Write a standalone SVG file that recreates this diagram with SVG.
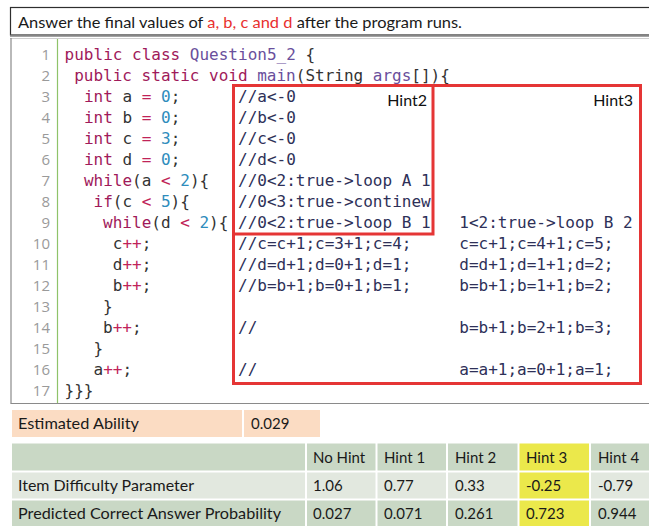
<svg xmlns="http://www.w3.org/2000/svg" width="649" height="526" viewBox="0 0 649 526">
<style>
.sans{font-family:Lato,"Open Sans","Liberation Sans",sans-serif;font-size:15px;fill:#1a1a1a}
.code{font-family:"DejaVu Sans Mono","Liberation Mono",monospace;font-size:16px;fill:#333333}
.ln{font-family:"Open Sans","Liberation Sans",sans-serif;font-size:15px;fill:#9a9a9a;text-anchor:end}
.cm{font-family:"DejaVu Sans Mono","Liberation Mono",monospace;font-size:16px;fill:#2e3058}
.kw{fill:#a01a5a}.id{fill:#6a4f9c}.nm{fill:#2e8cbc}.op{fill:#c02358}
.red{fill:none;stroke:#e53535;stroke-width:3}
.hint{font-family:Lato,"Open Sans","Liberation Sans",sans-serif;font-size:16px;fill:#111}
</style>
<rect width="649" height="526" fill="#ffffff"/>
<g id="question">
<rect x="10.5" y="7.5" width="645" height="27.5" fill="#ffffff" stroke="#2e2e2e" stroke-width="1.2"/>
<text class="sans" x="18" y="28" font-size="16" textLength="444" lengthAdjust="spacingAndGlyphs">Answer the final values of <tspan fill="#e8302e">a, b, c and d</tspan> after the program runs.</text>
</g>
<g id="code-box">
<line x1="10" y1="35.8" x2="649" y2="35.8" stroke="#858585" stroke-width="2"/>
<line x1="10" y1="38.5" x2="649" y2="38.5" stroke="#cfcfcf" stroke-width="1"/>
<line x1="11" y1="38" x2="11" y2="403.5" stroke="#8a8a8a" stroke-width="1.2"/>
<line x1="10.5" y1="403.5" x2="649" y2="403.5" stroke="#8a8a8a" stroke-width="1.2"/>
<line x1="57.5" y1="39" x2="57.5" y2="403" stroke="#8fc36a" stroke-width="1.2"/>
</g>
<g id="line-numbers">
<text class="ln" x="50" y="59.5">1</text>
<text class="ln" x="50" y="80.5">2</text>
<text class="ln" x="50" y="101.6">3</text>
<text class="ln" x="50" y="122.6">4</text>
<text class="ln" x="50" y="143.7">5</text>
<text class="ln" x="50" y="164.7">6</text>
<text class="ln" x="50" y="185.8">7</text>
<text class="ln" x="50" y="206.8">8</text>
<text class="ln" x="50" y="227.9">9</text>
<text class="ln" x="50" y="248.9">10</text>
<text class="ln" x="50" y="270">11</text>
<text class="ln" x="50" y="291">12</text>
<text class="ln" x="50" y="312.1">13</text>
<text class="ln" x="50" y="333.1">14</text>
<text class="ln" x="50" y="354.2">15</text>
<text class="ln" x="50" y="375.2">16</text>
<text class="ln" x="50" y="396.3">17</text>
</g>
<g id="code" xml:space="preserve">
<text class="code" x="64.6" y="59.5"><tspan class="kw">public class</tspan> <tspan class="id">Question5_2</tspan> {</text>
<text class="code" x="74.2" y="80.5"><tspan class="kw">public static void</tspan> <tspan class="id">main</tspan>(String <tspan class="id">args</tspan>[]){</text>
<text class="code" x="83.9" y="101.6"><tspan class="kw">int</tspan> a <tspan class="op">=</tspan> <tspan class="nm">0</tspan>;</text>
<text class="code" x="83.9" y="122.6"><tspan class="kw">int</tspan> b <tspan class="op">=</tspan> <tspan class="nm">0</tspan>;</text>
<text class="code" x="83.9" y="143.7"><tspan class="kw">int</tspan> c <tspan class="op">=</tspan> <tspan class="nm">3</tspan>;</text>
<text class="code" x="83.9" y="164.7"><tspan class="kw">int</tspan> d <tspan class="op">=</tspan> <tspan class="nm">0</tspan>;</text>
<text class="code" x="83.9" y="185.8"><tspan class="kw">while</tspan>(a <tspan class="op">&lt;</tspan> <tspan class="nm">2</tspan>){</text>
<text class="code" x="93.5" y="206.8"><tspan class="kw">if</tspan>(c <tspan class="op">&lt;</tspan> <tspan class="nm">5</tspan>){</text>
<text class="code" x="103.1" y="227.9"><tspan class="kw">while</tspan>(d <tspan class="op">&lt;</tspan> <tspan class="nm">2</tspan>){</text>
<text class="code" x="112.8" y="248.9">c<tspan class="op">++</tspan>;</text>
<text class="code" x="112.8" y="270">d<tspan class="op">++</tspan>;</text>
<text class="code" x="112.8" y="291">b<tspan class="op">++</tspan>;</text>
<text class="code" x="103.1" y="312.1">}</text>
<text class="code" x="103.1" y="333.1">b<tspan class="op">++</tspan>;</text>
<text class="code" x="93.5" y="354.2">}</text>
<text class="code" x="93.5" y="375.2">a<tspan class="op">++</tspan>;</text>
<text class="code" x="64.6" y="396.3">}}}</text>
</g>
<g id="hint2-comments" xml:space="preserve">
<text class="cm" x="238" y="101.6">//a&lt;-0</text>
<text class="cm" x="238" y="122.6">//b&lt;-0</text>
<text class="cm" x="238" y="143.7">//c&lt;-0</text>
<text class="cm" x="238" y="164.7">//d&lt;-0</text>
<text class="cm" x="238" y="185.8">//0&lt;2:true-&gt;loop A 1</text>
<text class="cm" x="238" y="206.8">//0&lt;3:true-&gt;continew</text>
<text class="cm" x="238" y="227.9">//0&lt;2:true-&gt;loop B 1</text>
<text class="cm" x="238" y="248.9">//c=c+1;c=3+1;c=4;</text>
<text class="cm" x="238" y="270">//d=d+1;d=0+1;d=1;</text>
<text class="cm" x="238" y="291">//b=b+1;b=0+1;b=1;</text>
<text class="cm" x="238" y="333.1">//</text>
<text class="cm" x="238" y="375.2">//</text>
</g>
<g id="hint3-comments" xml:space="preserve">
<text class="cm" x="459.3" y="227.9">1&lt;2:true-&gt;loop B 2</text>
<text class="cm" x="459.3" y="248.9">c=c+1;c=4+1;c=5;</text>
<text class="cm" x="459.3" y="270">d=d+1;d=1+1;d=2;</text>
<text class="cm" x="459.3" y="291">b=b+1;b=1+1;b=2;</text>
<text class="cm" x="459.3" y="333.1">b=b+1;b=2+1;b=3;</text>
<text class="cm" x="459.3" y="375.2">a=a+1;a=0+1;a=1;</text>
</g>
<g id="hint3-box">
<rect class="red" x="233.5" y="85.5" width="407" height="298"/>
<text class="hint" x="633" y="106" text-anchor="end">Hint3</text>
</g>
<g id="hint2-box">
<rect class="red" x="233.5" y="85.5" width="199.5" height="148.5"/>
<text class="hint" x="427" y="106" text-anchor="end">Hint2</text>
</g>
<g id="ability">
<rect x="12" y="410" width="230" height="27" fill="#fbdcc3"/>
<rect x="244" y="410" width="76" height="27" fill="#fbdcc3"/>
<text class="sans" x="18" y="429" textLength="121" lengthAdjust="spacingAndGlyphs">Estimated Ability</text>
<text class="sans" x="251" y="429">0.029</text>
</g>
<g id="table">
<rect x="12" y="443.5" width="293" height="27" fill="#c9d8c5"/>
<rect x="307" y="443.5" width="68.5" height="27" fill="#c9d8c5"/>
<rect x="377.5" y="443.5" width="68.5" height="27" fill="#c9d8c5"/>
<rect x="448" y="443.5" width="69.5" height="27" fill="#c9d8c5"/>
<rect x="519.5" y="443.5" width="69.5" height="27" fill="#ebe84b"/>
<rect x="591" y="443.5" width="58" height="27" fill="#c9d8c5"/>
<rect x="12" y="472.5" width="293" height="26" fill="#e2e8df"/>
<rect x="307" y="472.5" width="68.5" height="26" fill="#e2e8df"/>
<rect x="377.5" y="472.5" width="68.5" height="26" fill="#e2e8df"/>
<rect x="448" y="472.5" width="69.5" height="26" fill="#e2e8df"/>
<rect x="519.5" y="472.5" width="69.5" height="26" fill="#ebe84b"/>
<rect x="591" y="472.5" width="58" height="26" fill="#e2e8df"/>
<rect x="12" y="500.5" width="293" height="25.5" fill="#c9d8c5"/>
<rect x="307" y="500.5" width="68.5" height="25.5" fill="#c9d8c5"/>
<rect x="377.5" y="500.5" width="68.5" height="25.5" fill="#c9d8c5"/>
<rect x="448" y="500.5" width="69.5" height="25.5" fill="#c9d8c5"/>
<rect x="519.5" y="500.5" width="69.5" height="25.5" fill="#ebe84b"/>
<rect x="591" y="500.5" width="58" height="25.5" fill="#c9d8c5"/>
<text class="sans" x="313" y="463">No Hint</text>
<text class="sans" x="384" y="463">Hint 1</text>
<text class="sans" x="455" y="463">Hint 2</text>
<text class="sans" x="526" y="463">Hint 3</text>
<text class="sans" x="598" y="463">Hint 4</text>
<text class="sans" x="18" y="491" textLength="176" lengthAdjust="spacingAndGlyphs">Item Difficulty Parameter</text>
<text class="sans" x="313" y="491">1.06</text>
<text class="sans" x="384" y="491">0.77</text>
<text class="sans" x="455" y="491">0.33</text>
<text class="sans" x="526" y="491">-0.25</text>
<text class="sans" x="598" y="491">-0.79</text>
<text class="sans" x="18" y="519" textLength="263" lengthAdjust="spacingAndGlyphs">Predicted Correct Answer Probability</text>
<text class="sans" x="313" y="519">0.027</text>
<text class="sans" x="384" y="519">0.071</text>
<text class="sans" x="455" y="519">0.261</text>
<text class="sans" x="526" y="519">0.723</text>
<text class="sans" x="598" y="519">0.944</text>
</g>
</svg>
